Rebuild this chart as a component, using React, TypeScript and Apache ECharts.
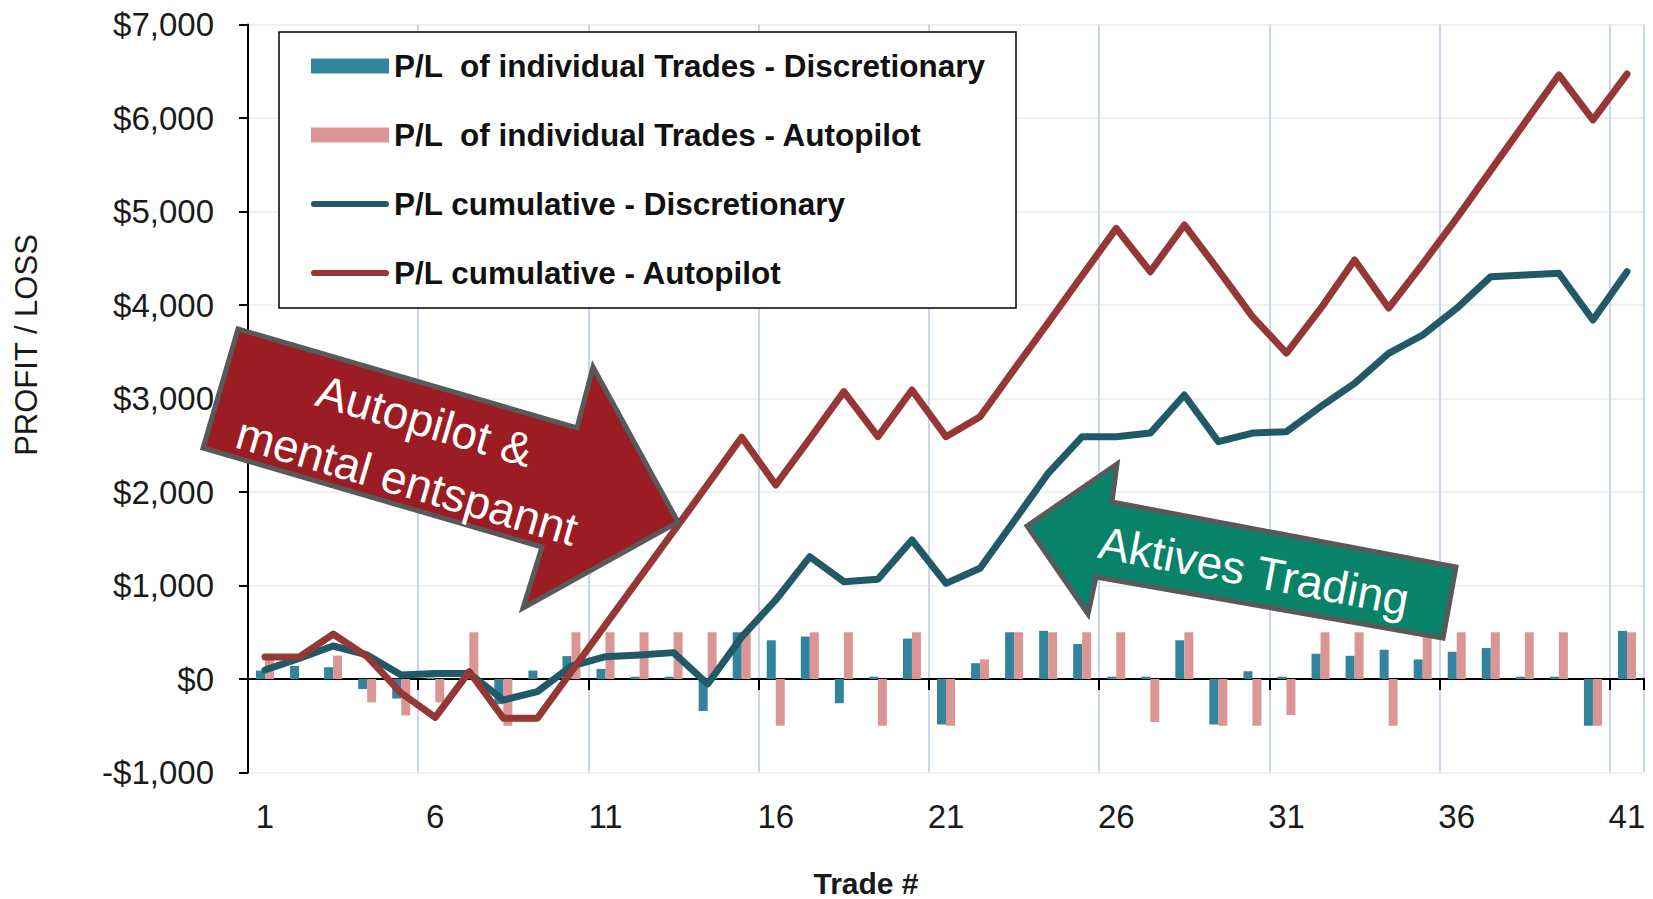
import React, { useEffect, useRef } from 'react';
import * as echarts from 'echarts';

const trades = ['1', '2', '3', '4', '5', '6', '7', '8', '9', '10', '11', '12', '13', '14', '15', '16', '17', '18', '19', '20', '21', '22', '23', '24', '25', '26', '27', '28', '29', '30', '31', '32', '33', '34', '35', '36', '37', '38', '39', '40', '41'];

const plDiscretionary = [90, 140, 126, -108, -209, 15, 0, -270, 90, 245, 108, 25, 25, -342, 500, 414, 454, -259, 25, 432, -486, 169, 500, 515, 374, 25, 25, 414, -486, 83, 25, 270, 248, 313, 209, 292, 331, 25, 25, -500, 515];

const plAutopilot = [230, 0, 250, -250, -390, -250, 500, -500, 0, 500, 500, 500, 500, 500, 500, -500, 500, 500, -500, 500, -500, 210, 500, 500, 500, 500, -460, 500, -500, -500, -385, 500, 500, -500, 500, 500, 500, 500, 500, -500, 500];

const cumDiscretionary = [96, 221, 353, 257, 43, 60, 60, -225, -135, 139, 239, 257, 282, -53, 450, 845, 1308, 1041, 1066, 1487, 1023, 1184, 1690, 2200, 2592, 2592, 2630, 3037, 2538, 2630, 2645, 2912, 3162, 3483, 3679, 3964, 4303, 4321, 4339, 3840, 4356];

const cumAutopilot = [235, 235, 481, 239, -150, -410, 78, -420, -420, 80, 580, 1080, 1580, 2080, 2585, 2075, 2570, 3073, 2592, 3091, 2592, 2805, 3310, 3810, 4315, 4820, 4356, 4856, 4374, 3875, 3486, 3960, 4481, 3968, 4440, 4930, 5440, 5950, 6460, 5980, 6470];

const yTicks = [-1000, 0, 1000, 2000, 3000, 4000, 5000, 6000, 7000];
const yTickLabels = ['-$1,000', '$0', '$1,000', '$2,000', '$3,000', '$4,000', '$5,000', '$6,000', '$7,000'];

const seriesNames = [
  'P/L  of individual Trades - Discretionary',
  'P/L  of individual Trades - Autopilot',
  'P/L cumulative - Discretionary',
  'P/L cumulative - Autopilot',
];

const xTitle = 'Trade #';
const yTitle = 'PROFIT / LOSS';
const redArrowText = 'Autopilot &\nmental entspannt';
const greenArrowText = 'Aktives Trading';

const FONT = "'Liberation Sans', Arial, sans-serif";
const LINE_ICON = 'path://M3,0 L73,0 A3,3 0 0 1 73,6 L3,6 A3,3 0 0 1 3,0 Z';

export default function App() {
  const ref = useRef<HTMLDivElement>(null);

  useEffect(() => {
    if (!ref.current) return;
    const chart = echarts.init(ref.current, undefined, { renderer: 'svg' });
    const deg = Math.PI / 180;
    chart.setOption({
      animation: false,
      backgroundColor: '#ffffff',
      grid: { left: 248, right: 9, top: 24.5, bottom: 126.5, containLabel: false },
      legend: {
        data: [
          { name: seriesNames[0], icon: 'rect' },
          { name: seriesNames[1], icon: 'rect' },
          { name: seriesNames[2], icon: LINE_ICON },
          { name: seriesNames[3], icon: LINE_ICON },
        ],
        orient: 'vertical',
        left: 311,
        top: 50,
        padding: 0,
        itemWidth: 78,
        itemHeight: 15,
        itemGap: 37,
        symbolKeepAspect: true,
        selectedMode: false,
        z: 6,
        textStyle: { fontFamily: FONT, fontSize: 31.5, fontWeight: 'bold', color: '#111111' },
      },
      xAxis: [
        {
          type: 'category',
          data: trades,
          boundaryGap: true,
          position: 'bottom',
          axisLine: { show: true, onZero: true, lineStyle: { color: '#000000', width: 2 } },
          axisTick: { show: true, interval: 4, length: 11, lineStyle: { color: '#000000', width: 2 } },
          axisLabel: { show: false },
          splitLine: { show: true, interval: 4, lineStyle: { color: '#c7d5ef', width: 2 } },
        },
        {
          type: 'category',
          data: trades,
          boundaryGap: true,
          position: 'bottom',
          axisLine: { show: false, onZero: false },
          axisTick: { show: false },
          splitLine: { show: false },
          axisLabel: { interval: 4, margin: 27, fontFamily: FONT, fontSize: 33, color: '#1a1a1a' },
        },
      ],
      yAxis: {
        type: 'value',
        min: -1000,
        max: 7000,
        interval: 1000,
        axisLine: { show: true, lineStyle: { color: '#000000', width: 2 } },
        axisTick: { show: true, length: 9, lineStyle: { color: '#000000', width: 2 } },
        axisLabel: {
          margin: 34,
          fontFamily: FONT,
          fontSize: 33,
          color: '#1a1a1a',
          formatter: (v: number) => {
            const i = yTicks.indexOf(v);
            return i >= 0 ? yTickLabels[i] : '';
          },
        },
        splitLine: { show: true, lineStyle: { color: '#efefef', width: 2 } },
      },
      series: [
        {
          name: seriesNames[0],
          type: 'bar',
          data: plDiscretionary,
          barWidth: 9,
          barGap: '0%',
          itemStyle: { color: '#31849b' },
        },
        {
          name: seriesNames[1],
          type: 'bar',
          data: plAutopilot,
          barWidth: 9,
          barGap: '0%',
          itemStyle: { color: '#da9694' },
        },
        {
          name: seriesNames[2],
          type: 'line',
          data: cumDiscretionary,
          symbol: 'none',
          itemStyle: { color: '#215968' },
          lineStyle: { color: '#215968', width: 7, cap: 'round', join: 'round' },
        },
        {
          name: seriesNames[3],
          type: 'line',
          data: cumAutopilot,
          symbol: 'none',
          itemStyle: { color: '#953735' },
          lineStyle: { color: '#953735', width: 7, cap: 'round', join: 'round' },
        },
      ],
      graphic: [
        {
          type: 'rect',
          z: 5,
          shape: { x: 279, y: 32, width: 737, height: 276 },
          style: { fill: '#ffffff', stroke: '#000000', lineWidth: 1.5 },
        },
        {
          type: 'polygon',
          z: 20,
          shape: {
            points: [
              [238, 329], [577, 428], [593, 367], [678, 522], [523, 608], [542, 547], [203, 448],
            ],
          },
          style: { fill: '#9b1c22', stroke: '#595959', lineWidth: 5, lineJoin: 'miter' },
        },
        {
          type: 'text',
          z: 21,
          x: 416,
          y: 451,
          rotation: -16.3 * deg,
          style: {
            text: redArrowText,
            fill: '#ffffff',
            fontFamily: FONT,
            fontSize: 46,
            lineHeight: 63,
            align: 'center',
            verticalAlign: 'middle',
          },
        },
        {
          type: 'polygon',
          z: 20,
          shape: {
            points: [
              [1027, 526], [1117, 464], [1112, 502], [1456, 567], [1443, 638], [1096, 577], [1088, 614],
            ],
          },
          style: { fill: '#08836a', stroke: '#595959', lineWidth: 5, lineJoin: 'miter' },
        },
        {
          type: 'text',
          z: 21,
          x: 1254,
          y: 571,
          rotation: -10.7 * deg,
          style: {
            text: greenArrowText,
            fill: '#ffffff',
            fontFamily: FONT,
            fontSize: 46,
            align: 'center',
            verticalAlign: 'middle',
          },
        },
        {
          type: 'text',
          z: 5,
          x: 866,
          y: 883,
          style: {
            text: xTitle,
            fill: '#1a1a1a',
            fontFamily: FONT,
            fontSize: 30,
            fontWeight: 'bold',
            align: 'center',
            verticalAlign: 'middle',
          },
        },
        {
          type: 'text',
          z: 5,
          x: 26,
          y: 345,
          rotation: Math.PI / 2,
          style: {
            text: yTitle,
            fill: '#1a1a1a',
            fontFamily: FONT,
            fontSize: 31,
            align: 'center',
            verticalAlign: 'middle',
          },
        },
      ],
    });
    return () => chart.dispose();
  }, []);

  return (
    <div
      ref={ref}
      style={{ position: 'fixed', left: 0, top: 0, width: 1653, height: 899, background: '#ffffff' }}
    />
  );
}
